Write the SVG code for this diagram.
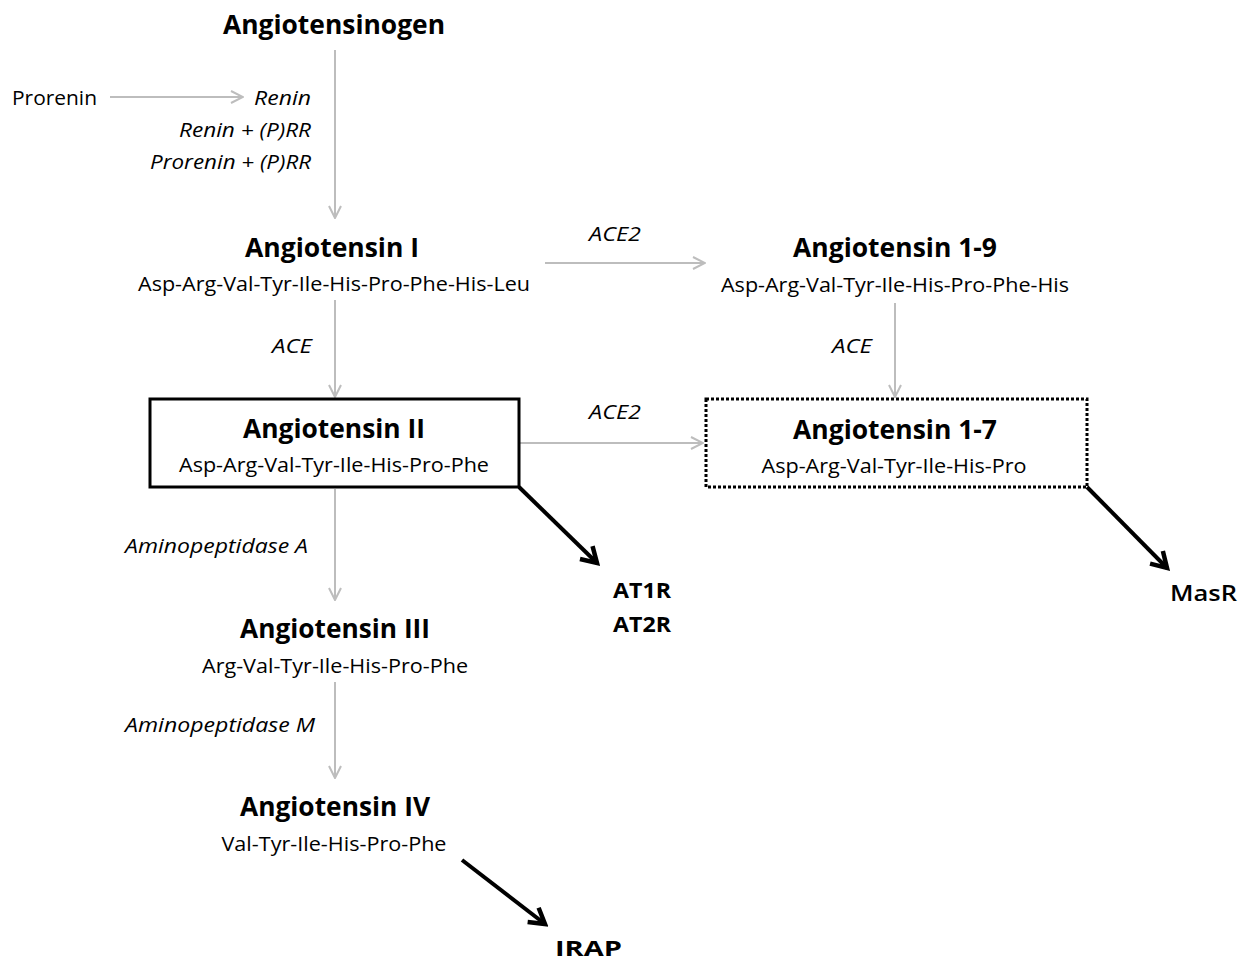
<svg xmlns="http://www.w3.org/2000/svg" width="1245" height="962" viewBox="0 0 1245 962">
<style>
text{font-family:"Open Sans","Noto Sans",sans-serif;fill:#000}
.t{font-size:27px;font-weight:bold;text-anchor:middle}
.s{font-size:20px;text-anchor:middle}
.e{font-size:20px;font-style:italic}
.r{font-size:22px;font-weight:bold}
.g{stroke:#bdbdbd;stroke-width:2;fill:none}
.k{stroke:#000;stroke-width:4;fill:none}
</style>
<defs>
<marker id="ga" viewBox="0 0 14 14" refX="13" refY="7" markerWidth="14" markerHeight="14" markerUnits="userSpaceOnUse" orient="auto">
<path d="M1,1 L13,7 L1,13" fill="none" stroke="#bdbdbd" stroke-width="2"/>
</marker>
<marker id="ka" viewBox="0 0 24 24" refX="20" refY="12" markerWidth="24" markerHeight="24" markerUnits="userSpaceOnUse" orient="auto">
<path d="M5,3 L20,12 L5,21" fill="none" stroke="#000" stroke-width="4.5"/>
</marker>
</defs>
<g id="connectors">
<line class="g" x1="335" y1="50" x2="335" y2="218" marker-end="url(#ga)"/>
<line class="g" x1="110" y1="97" x2="243" y2="97" marker-end="url(#ga)"/>
<line class="g" x1="545" y1="263" x2="705" y2="263" marker-end="url(#ga)"/>
<line class="g" x1="335" y1="300" x2="335" y2="397" marker-end="url(#ga)"/>
<line class="g" x1="895" y1="303" x2="895" y2="397" marker-end="url(#ga)"/>
<line class="g" x1="519" y1="443" x2="703" y2="443" marker-end="url(#ga)"/>
<line class="g" x1="335" y1="489" x2="335" y2="600" marker-end="url(#ga)"/>
<line class="g" x1="335" y1="682" x2="335" y2="778" marker-end="url(#ga)"/>
<line class="k" x1="519" y1="487" x2="597" y2="563" marker-end="url(#ka)"/>
<line class="k" x1="1087" y1="487" x2="1167" y2="568" marker-end="url(#ka)"/>
<line class="k" x1="462" y1="860" x2="545" y2="924" marker-end="url(#ka)"/>
</g>
<g id="angiotensinogen"><text class="t" x="334" y="34" textLength="222" lengthAdjust="spacingAndGlyphs">Angiotensinogen</text></g>
<g id="prorenin"><text x="12" y="105" style="font-size:20px" textLength="85" lengthAdjust="spacingAndGlyphs">Prorenin</text></g>
<g id="renin-labels">
<text class="e" x="311" y="105" text-anchor="end" textLength="57" lengthAdjust="spacingAndGlyphs">Renin</text>
<text class="e" x="311" y="137" text-anchor="end" textLength="132" lengthAdjust="spacingAndGlyphs">Renin + (P)RR</text>
<text class="e" x="311" y="169" text-anchor="end" textLength="161" lengthAdjust="spacingAndGlyphs">Prorenin + (P)RR</text>
</g>
<g id="angiotensin-i">
<text class="t" x="332" y="257" textLength="174" lengthAdjust="spacingAndGlyphs">Angiotensin I</text>
<text class="s" x="334" y="291" textLength="392" lengthAdjust="spacingAndGlyphs">Asp-Arg-Val-Tyr-Ile-His-Pro-Phe-His-Leu</text>
</g>
<g id="angiotensin-1-9">
<text class="t" x="895" y="257" textLength="204" lengthAdjust="spacingAndGlyphs">Angiotensin 1-9</text>
<text class="s" x="895" y="292" textLength="348" lengthAdjust="spacingAndGlyphs">Asp-Arg-Val-Tyr-Ile-His-Pro-Phe-His</text>
</g>
<g id="enzyme-labels">
<text class="e" x="615" y="241" text-anchor="middle" textLength="52" lengthAdjust="spacingAndGlyphs">ACE2</text>
<text class="e" x="292" y="353" text-anchor="middle" textLength="40" lengthAdjust="spacingAndGlyphs">ACE</text>
<text class="e" x="852" y="353" text-anchor="middle" textLength="40" lengthAdjust="spacingAndGlyphs">ACE</text>
<text class="e" x="615" y="419" text-anchor="middle" textLength="52" lengthAdjust="spacingAndGlyphs">ACE2</text>
<text class="e" x="125" y="553" textLength="183" lengthAdjust="spacingAndGlyphs">Aminopeptidase A</text>
<text class="e" x="125" y="732" textLength="190" lengthAdjust="spacingAndGlyphs">Aminopeptidase M</text>
</g>
<g id="angiotensin-ii">
<rect x="150" y="399" width="369" height="88" fill="none" stroke="#000" stroke-width="3"/>
<text class="t" x="334" y="438" textLength="182" lengthAdjust="spacingAndGlyphs">Angiotensin II</text>
<text class="s" x="334" y="472" textLength="310" lengthAdjust="spacingAndGlyphs">Asp-Arg-Val-Tyr-Ile-His-Pro-Phe</text>
</g>
<g id="angiotensin-1-7">
<rect x="706" y="399" width="381" height="88" fill="none" stroke="#000" stroke-width="3" stroke-dasharray="3,2"/>
<text class="t" x="895" y="439" textLength="204" lengthAdjust="spacingAndGlyphs">Angiotensin 1-7</text>
<text class="s" x="894" y="473" textLength="265" lengthAdjust="spacingAndGlyphs">Asp-Arg-Val-Tyr-Ile-His-Pro</text>
</g>
<g id="at-receptors">
<text class="r" x="613" y="598" textLength="58" lengthAdjust="spacingAndGlyphs">AT1R</text>
<text class="r" x="613" y="632" textLength="58" lengthAdjust="spacingAndGlyphs">AT2R</text>
</g>
<g id="masr"><text x="1170" y="601" style="font-size:22px;font-weight:600" textLength="67" lengthAdjust="spacingAndGlyphs">MasR</text></g>
<g id="angiotensin-iii">
<text class="t" x="335" y="638" textLength="190" lengthAdjust="spacingAndGlyphs">Angiotensin III</text>
<text class="s" x="335" y="673" textLength="266" lengthAdjust="spacingAndGlyphs">Arg-Val-Tyr-Ile-His-Pro-Phe</text>
</g>
<g id="angiotensin-iv">
<text class="t" x="335" y="816" textLength="190" lengthAdjust="spacingAndGlyphs">Angiotensin IV</text>
<text class="s" x="334" y="851" textLength="225" lengthAdjust="spacingAndGlyphs">Val-Tyr-Ile-His-Pro-Phe</text>
</g>
<g id="irap"><text class="r" x="555" y="956" textLength="67" lengthAdjust="spacingAndGlyphs">IRAP</text></g>
</svg>
